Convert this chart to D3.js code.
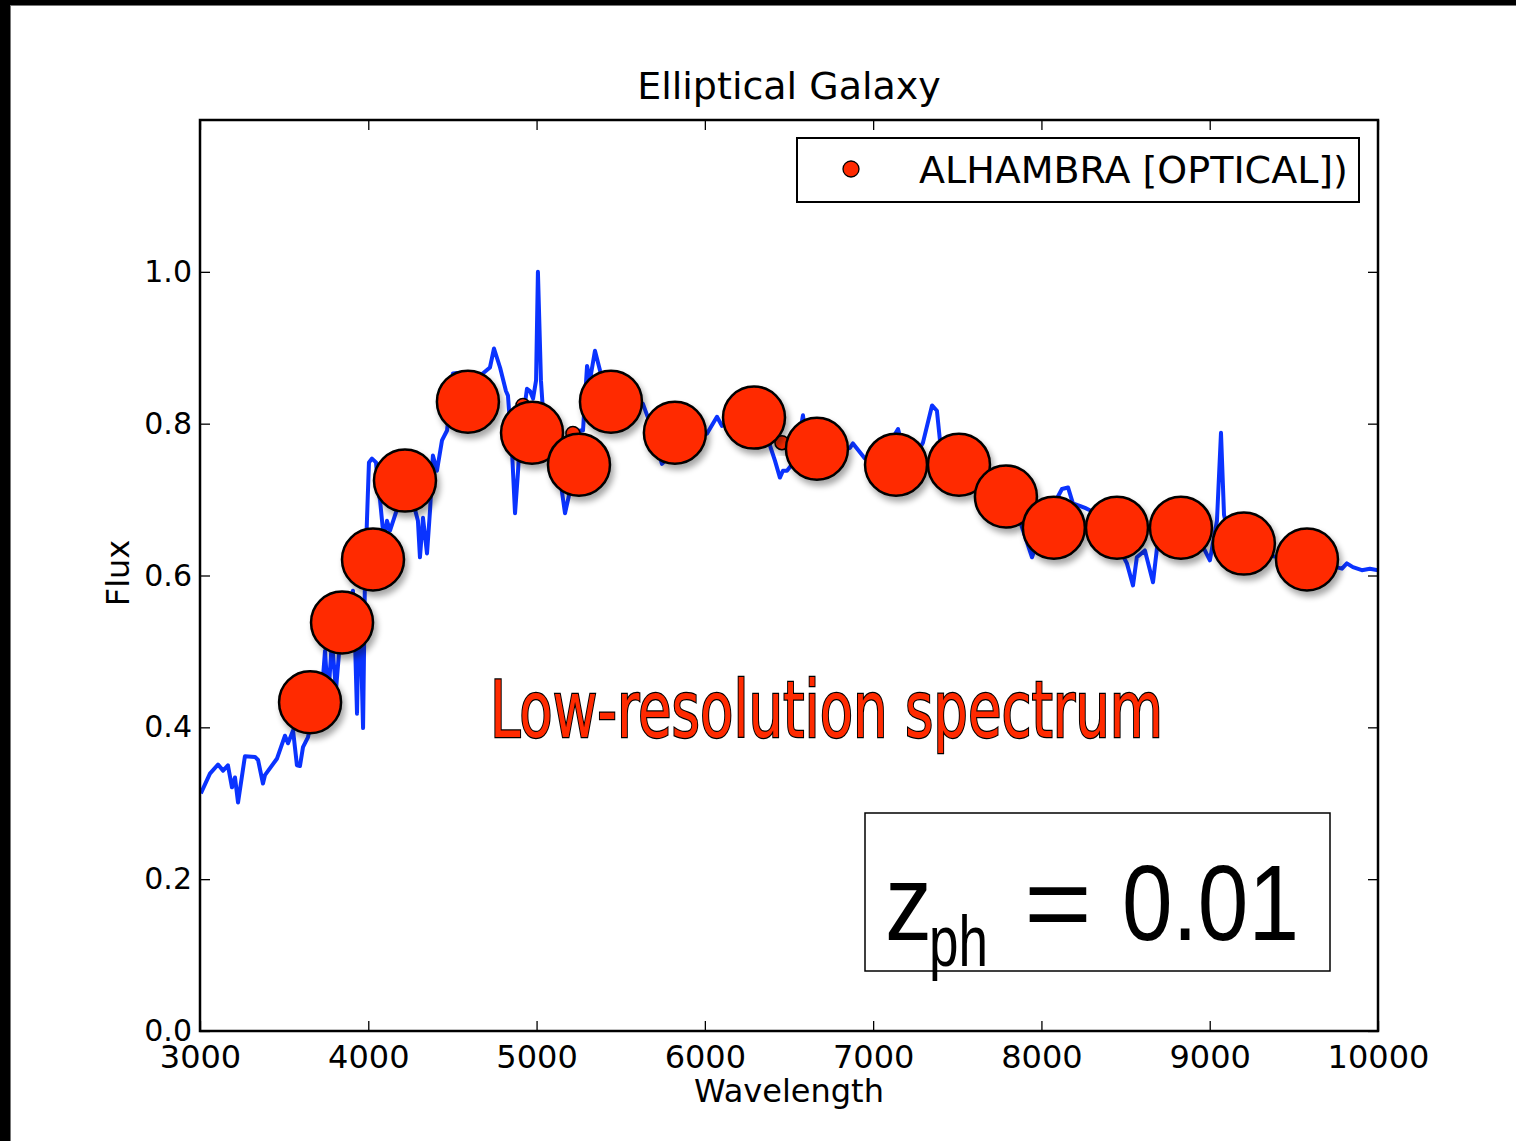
<!DOCTYPE html>
<html>
<head>
<meta charset="utf-8">
<script src="https://cdn.jsdelivr.net/npm/d3@7/dist/d3.min.js"></script>
<style>
  body { margin: 0; background: #fff; }
  svg { display: block; }
</style>
</head>
<body>
<svg width="1516" height="1141"></svg>
<script>
"use strict";

// spectrum trace (wavelength, flux)
let specWave = [3005, 3059, 3107, 3137, 3166, 3190, 3208, 3226, 3267, 3327, 3345, 3374, 3386, 3458, 3505, 3523, 3553, 3576, 3594, 3612, 3642,
    3683, 3713, 3725, 3743, 3761, 3784, 3808, 3832, 3862, 3891, 3909, 3921, 3933, 3945, 3957, 3969, 3980, 3992, 4004, 4022, 4046,
    4058, 4070, 4093, 4111, 4129, 4188, 4248, 4295, 4307, 4325, 4349, 4367, 4384, 4408, 4438, 4468, 4503, 4545, 4604, 4664, 4723,
    4747, 4783, 4818, 4830, 4854, 4872, 4890, 4901, 4925, 4943, 4961, 4979, 4997, 5008, 5026, 5038, 5080, 5139, 5169, 5199, 5228,
    5258, 5276, 5300, 5317, 5347, 5377, 5436, 5496, 5555, 5632, 5662, 5704, 5745, 5852, 5941, 6013, 6072, 6102, 6209, 6328, 6387,
    6417, 6446, 6464, 6488, 6535, 6583, 6601, 6743, 6862, 6880, 6951, 7070, 7148, 7189, 7249, 7296, 7350, 7379, 7397, 7575, 7694,
    7872, 7944, 8021, 8122, 8158, 8187, 8259, 8288, 8407, 8508, 8544, 8567, 8615, 8663, 8692, 8942, 9001, 9043, 9067, 9085, 9120,
    9358, 9714, 9786, 9815, 9851, 9904, 9952, 10000];
let specFlux = [0.313, 0.339, 0.351, 0.343, 0.350, 0.321, 0.334, 0.301, 0.362, 0.361, 0.357, 0.326, 0.337, 0.359, 0.389, 0.379, 0.396, 0.350, 0.349, 0.374, 0.387,
    0.436, 0.462, 0.449, 0.501, 0.436, 0.514, 0.449, 0.514, 0.528, 0.567, 0.580, 0.514, 0.418, 0.567, 0.501, 0.399, 0.593, 0.672, 0.749, 0.754, 0.749,
    0.712, 0.699, 0.646, 0.672, 0.659, 0.699, 0.712, 0.672, 0.624, 0.676, 0.629, 0.686, 0.758, 0.738, 0.778, 0.791, 0.866, 0.867, 0.857, 0.863, 0.874,
    0.899, 0.874, 0.843, 0.837, 0.764, 0.682, 0.738, 0.782, 0.817, 0.846, 0.843, 0.833, 0.857, 1.000, 0.857, 0.817, 0.764, 0.729, 0.682, 0.712, 0.751,
    0.791, 0.791, 0.876, 0.857, 0.896, 0.870, 0.830, 0.824, 0.817, 0.826, 0.808, 0.778, 0.747, 0.771, 0.778, 0.787, 0.809, 0.797, 0.804, 0.797, 0.771,
    0.751, 0.729, 0.738, 0.738, 0.751, 0.811, 0.778, 0.764, 0.768, 0.774, 0.754, 0.764, 0.793, 0.757, 0.757, 0.775, 0.824, 0.817, 0.778, 0.738, 0.725,
    0.672, 0.624, 0.672, 0.714, 0.716, 0.695, 0.689, 0.686, 0.659, 0.616, 0.587, 0.624, 0.633, 0.591, 0.646, 0.646, 0.620, 0.672, 0.788, 0.680, 0.646,
    0.626, 0.613, 0.609, 0.616, 0.611, 0.607, 0.609, 0.607];

// ALHAMBRA filter photometry
let photWave = [3654, 3844, 4028, 4218, 4592, 4973, 5252, 5442, 5822, 6292, 6666, 7136, 7510, 7789, 8074, 8449, 8829, 9203, 9578];
let photFlux = [0.433, 0.538, 0.621, 0.725, 0.829, 0.788, 0.746, 0.829, 0.788, 0.808, 0.767, 0.746, 0.746, 0.704, 0.663, 0.663, 0.663, 0.642, 0.621];

// small markers peeking out behind the big ones
let smallWave = [4919, 5216, 6458];
let smallFlux = [0.824, 0.787, 0.775];

let xTicks = [3000, 4000, 5000, 6000, 7000, 8000, 9000, 10000];
let yTicks = [0.0, 0.2, 0.4, 0.6, 0.8, 1.0];

let svg = d3.select("svg"),
    margin = { top: 120, right: 138, bottom: 110, left: 200 },
    width = +svg.attr("width") - margin.left - margin.right,
    height = +svg.attr("height") - margin.top - margin.bottom;

// slide border
svg.append("rect").attr("x", 0).attr("y", 0).attr("width", 1516).attr("height", 5).attr("fill", "#000");
svg.append("rect").attr("x", 0).attr("y", 0).attr("width", 10).attr("height", 1141).attr("fill", "#000");
svg.append("line").attr("x1", 10.5).attr("x2", 10.5).attr("y1", 5).attr("y2", 1141).attr("stroke", "#777").attr("stroke-width", 1);
svg.append("line").attr("x1", 10).attr("x2", 1516).attr("y1", 5.5).attr("y2", 5.5).attr("stroke", "#777").attr("stroke-width", 1);

let defs = svg.append("defs");
let shadow = defs.append("filter").attr("id", "shadow").attr("x", "-30%").attr("y", "-30%").attr("width", "170%").attr("height", "170%");
shadow.append("feGaussianBlur").attr("in", "SourceAlpha").attr("stdDeviation", 3);
shadow.append("feOffset").attr("dx", 3).attr("dy", 5).attr("result", "ob");
shadow.append("feComponentTransfer").append("feFuncA").attr("type", "linear").attr("slope", 0.35);
let merge = shadow.append("feMerge");
merge.append("feMergeNode");
merge.append("feMergeNode").attr("in", "SourceGraphic");

defs.append("clipPath").attr("id", "plotclip").append("rect")
    .attr("x", 0).attr("y", 0).attr("width", width).attr("height", height);

let g = svg.append("g").attr("transform", "translate(" + margin.left + "," + margin.top + ")");

let x = d3.scaleLinear().domain([3000, 10000]).range([0, width]);
let y = d3.scaleLinear().domain([0, 1.2]).range([height, 0]);

let spec = specWave.map(function (w, i) { return { w: w, f: specFlux[i] }; });
let phot = photWave.map(function (w, i) { return { w: w, f: photFlux[i] }; });
let small = smallWave.map(function (w, i) { return { w: w, f: smallFlux[i] }; });

let plot = g.append("g").attr("clip-path", "url(#plotclip)");

plot.append("path")
    .datum(spec)
    .attr("fill", "none")
    .attr("stroke", "#0a33ff")
    .attr("stroke-width", 4)
    .attr("stroke-linejoin", "round")
    .attr("d", d3.line().x(function (d) { return x(d.w); }).y(function (d) { return y(d.f); }));

g.append("g").selectAll("circle").data(small).enter().append("circle")
    .attr("cx", function (d) { return x(d.w); })
    .attr("cy", function (d) { return y(d.f); })
    .attr("r", 7)
    .attr("fill", "#ff2a00")
    .attr("stroke", "#000")
    .attr("stroke-width", 1.5)
    .attr("filter", "url(#shadow)");

g.append("g").selectAll("circle").data(phot).enter().append("circle")
    .attr("cx", function (d) { return x(d.w); })
    .attr("cy", function (d) { return y(d.f); })
    .attr("r", 31)
    .attr("fill", "#ff2a00")
    .attr("stroke", "#000")
    .attr("stroke-width", 2.5)
    .attr("filter", "url(#shadow)");

// axes with matplotlib-style inward ticks on all sides
let tickFont = "DejaVu Sans, sans-serif";

let xBottom = g.append("g").attr("transform", "translate(0," + height + ")")
    .call(d3.axisBottom(x).tickValues(xTicks).tickSizeInner(-10).tickSizeOuter(0).tickPadding(14).tickFormat(d3.format("d")));
let xTop = g.append("g")
    .call(d3.axisTop(x).tickValues(xTicks).tickSizeInner(-10).tickSizeOuter(0).tickFormat(""));
let yLeft = g.append("g")
    .call(d3.axisLeft(y).tickValues(yTicks).tickSizeInner(-10).tickSizeOuter(0).tickPadding(8).tickFormat(d3.format(".1f")));
let yRight = g.append("g").attr("transform", "translate(" + width + ",0)")
    .call(d3.axisRight(y).tickValues(yTicks).tickSizeInner(-10).tickSizeOuter(0).tickFormat(""));

[xBottom, xTop, yLeft, yRight].forEach(function (a) {
    a.select(".domain").remove();
    a.selectAll(".tick line").attr("stroke", "#000").attr("stroke-width", 1.3);
    a.selectAll("text").attr("fill", "#000").style("font-family", tickFont).style("font-size", "30px");
});
xBottom.selectAll("text").attr("dy", "0.71em").style("font-size", "32px");

g.append("rect")
    .attr("x", 0).attr("y", 0).attr("width", width).attr("height", height)
    .attr("fill", "none").attr("stroke", "#000").attr("stroke-width", 2.5);

// titles
svg.append("text").attr("x", margin.left + width / 2).attr("y", 99)
    .attr("text-anchor", "middle").style("font-family", tickFont).style("font-size", "38px")
    .text("Elliptical Galaxy");
svg.append("text").attr("x", margin.left + width / 2).attr("y", 1102)
    .attr("text-anchor", "middle").style("font-family", tickFont).style("font-size", "32px")
    .text("Wavelength");
svg.append("text").attr("transform", "translate(129,573) rotate(-90)")
    .attr("text-anchor", "middle").style("font-family", tickFont).style("font-size", "32px")
    .text("Flux");

// legend
svg.append("rect").attr("x", 797).attr("y", 138).attr("width", 562).attr("height", 64)
    .attr("fill", "#fff").attr("stroke", "#000").attr("stroke-width", 2);
svg.append("circle").attr("cx", 851).attr("cy", 169).attr("r", 8)
    .attr("fill", "#ff2a00").attr("stroke", "#000").attr("stroke-width", 1.3);
svg.append("text").attr("x", 919).attr("y", 183)
    .style("font-family", tickFont).style("font-size", "38px")
    .text("ALHAMBRA [OPTICAL])");

// annotation
svg.append("text").attr("x", 490).attr("y", 737)
    .attr("textLength", 673).attr("lengthAdjust", "spacingAndGlyphs")
    .style("font-family", "DejaVu Sans Condensed, DejaVu Sans, sans-serif").style("font-size", "79px")
    .attr("fill", "#ff2a00").attr("stroke", "#000").attr("stroke-width", 2.5).attr("paint-order", "stroke")
    .text("Low-resolution spectrum");

// redshift box
svg.append("rect").attr("x", 865).attr("y", 813).attr("width", 465).attr("height", 158)
    .attr("fill", "#fff").attr("stroke", "#000").attr("stroke-width", 1.5);
let zFont = "Liberation Sans, Arial, sans-serif";
function zText(tx, ty, size, len, s) {
    svg.append("text").attr("x", tx).attr("y", ty)
        .attr("textLength", len).attr("lengthAdjust", "spacingAndGlyphs")
        .style("font-family", zFont).style("font-size", size + "px").text(s);
}
zText(885, 940, 107, 47, "z");
zText(929, 966, 73, 59, "ph");
zText(1024, 940, 107, 68, "=");
zText(1122, 940, 107, 177, "0.01");
</script>
</body>
</html>
